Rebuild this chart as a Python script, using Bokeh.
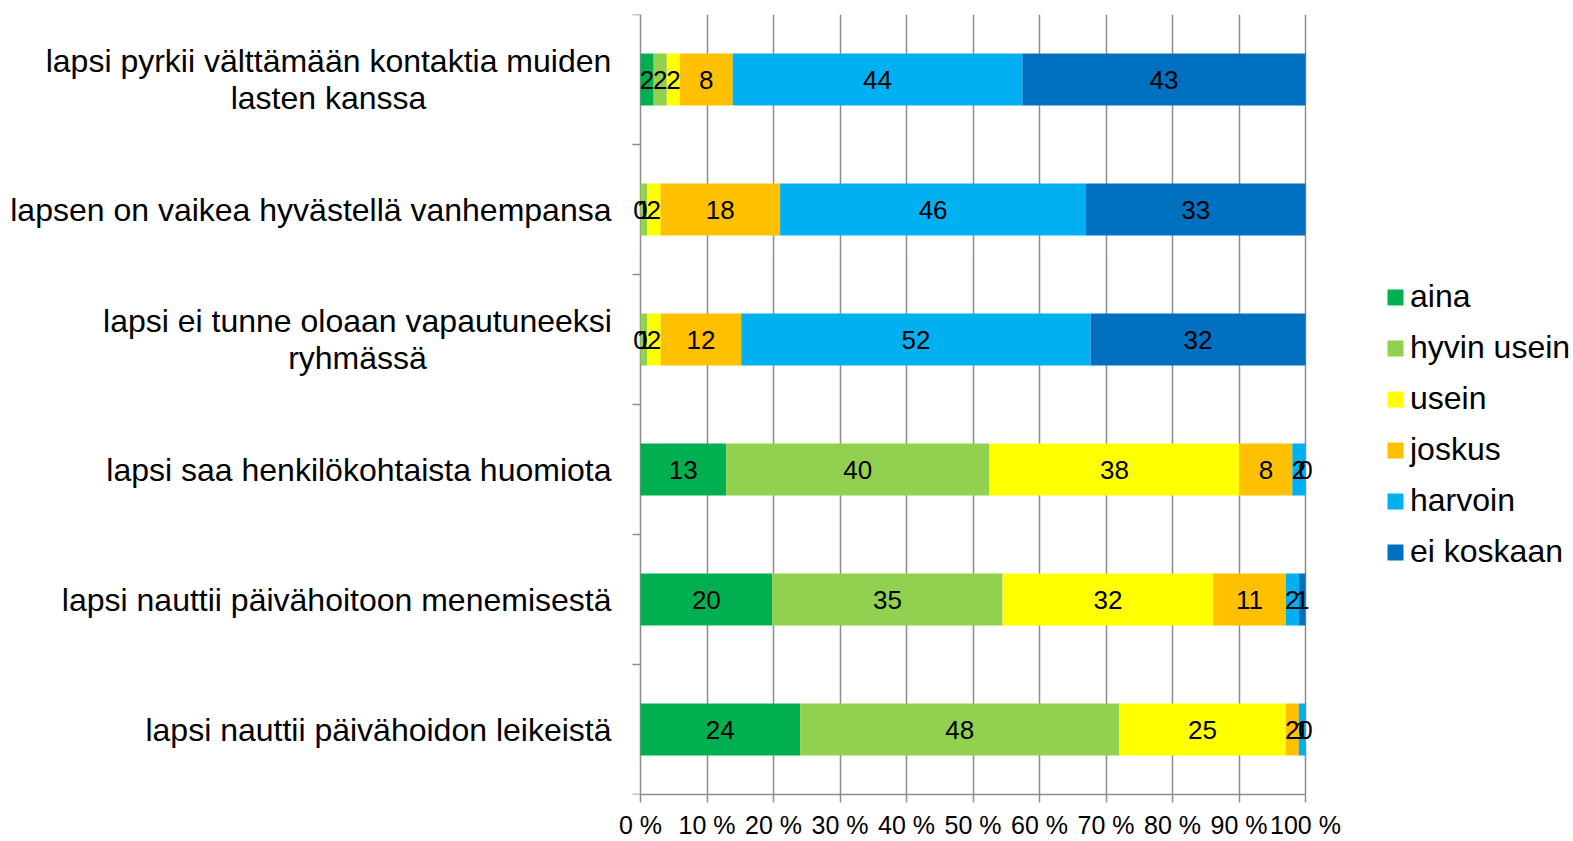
from bokeh.plotting import figure
from bokeh.models import (Range1d, FixedTicker, Label, LabelSet, Legend, LegendItem,
                          ColumnDataSource)
from bokeh.embed import file_html
from bokeh.resources import INLINE
from bokeh.core.properties import value
import numpy as np

# ---------------- data ----------------
categories = [
    "lapsi pyrkii välttämään kontaktia muiden\nlasten kanssa",
    "lapsen on vaikea hyvästellä vanhempansa",
    "lapsi ei tunne oloaan vapautuneeksi\nryhmässä",
    "lapsi saa henkilökohtaista huomiota",
    "lapsi nauttii päivähoitoon menemisestä",
    "lapsi nauttii päivähoidon leikeistä",
]
series_names = ["aina", "hyvin usein", "usein", "joskus", "harvoin", "ei koskaan"]
aina = [2, 0, 0, 13, 20, 24]
hyvin_usein = [2, 1, 1, 40, 35, 48]
usein = [2, 2, 2, 38, 32, 25]
joskus = [8, 18, 12, 8, 11, 2]
harvoin = [44, 46, 52, 2, 2, 1]
ei_koskaan = [43, 33, 32, 0, 1, 0]
x_ticks = [0, 10, 20, 30, 40, 50, 60, 70, 80, 90, 100]
x_tick_labels = ["0 %", "10 %", "20 %", "30 %", "40 %", "50 %", "60 %", "70 %", "80 %", "90 %", "100 %"]

# ---------------- style / layout ----------------
colors = ["#00B050", "#92D050", "#FFFF00", "#FFC000", "#00B0F0", "#0070C0"]
grid_color = "#8C8C8C"
FONT = "Liberation Sans"

W, H = 1573, 841
AXIS_PX = 640          # screen x of the 0 % line
PX_PER_PCT = 6.65      # screen px per percent
TOP, BOTTOM_BORDER = 14, 44

series = [aina, hyvin_usein, usein, joskus, harvoin, ei_koskaan]
vals = np.array(series, dtype=float)          # (series, categories)
pct = vals / vals.sum(axis=0) * 100.0
cum = np.cumsum(pct, axis=0)
lefts = cum - pct

n = len(categories)
ys = [i + 0.5 for i in range(n)]

x_start = -AXIS_PX / PX_PER_PCT
x_end = (W - AXIS_PX) / PX_PER_PCT

p = figure(width=W, height=H, x_range=Range1d(x_start, x_end), y_range=Range1d(n, 0),
           output_backend="svg", toolbar_location=None,
           min_border_left=0, min_border_right=0, min_border_top=TOP,
           min_border_bottom=BOTTOM_BORDER)
p.outline_line_color = None
p.yaxis.visible = False

# grid (the 0 % grid line doubles as the vertical axis line)
p.xgrid.ticker = FixedTicker(ticks=x_ticks)
p.xgrid.grid_line_color = grid_color
p.xgrid.grid_line_width = 1.5
p.ygrid.grid_line_color = None

# category boundary tick marks on the vertical axis
bounds = list(range(n + 1))
tick_len = 8 / PX_PER_PCT
p.segment(x0=[0] * len(bounds), x1=[-tick_len] * len(bounds), y0=bounds, y1=bounds,
          line_color=grid_color, line_width=1.5)

renderers = []
for k, name in enumerate(series_names):
    src = ColumnDataSource(dict(y=ys, left=lefts[k], right=cum[k]))
    r = p.hbar(y="y", left="left", right="right", height=0.4, source=src,
               fill_color=colors[k], line_color=None)
    renderers.append(r)
    lab_src = ColumnDataSource(dict(x=(lefts[k] + cum[k]) / 2, y=ys,
                                    t=[str(v) for v in series[k]]))
    p.add_layout(LabelSet(x="x", y="y", text="t", source=lab_src,
                          text_align="center", text_baseline="middle",
                          text_font=value(FONT), text_font_size="26px",
                          text_color="black"))

# x axis
p.xaxis.bounds = (0, 100)
p.xaxis.ticker = FixedTicker(ticks=x_ticks)
p.xaxis.major_label_overrides = {t: l for t, l in zip(x_ticks, x_tick_labels)}
p.xaxis.major_label_text_font = FONT
p.xaxis.major_label_text_font_size = "25px"
p.xaxis.major_label_text_color = "black"
p.xaxis.major_label_standoff = 8
p.xaxis.axis_line_color = grid_color
p.xaxis.axis_line_width = 1.5
p.xaxis.major_tick_line_color = grid_color
p.xaxis.major_tick_line_width = 1.5
p.xaxis.major_tick_out = 8
p.xaxis.major_tick_in = 0
p.xaxis.minor_tick_line_color = None

# category labels (left of the axis)
label_offset = [-312, -29, -283, -29, -29, -29]
label_align = ["center", "right", "center", "right", "right", "right"]
for i, cat in enumerate(categories):
    p.add_layout(Label(x=0, y=ys[i], x_offset=label_offset[i],
                       text=cat, text_align=label_align[i], text_baseline="middle",
                       text_font=FONT, text_font_size="32px", text_color="black",
                       text_line_height=1.02))

legend = Legend(items=[LegendItem(label=s, renderers=[r]) for s, r in zip(series_names, renderers)],
                location=(1385, 224), orientation="vertical",
                glyph_width=20, glyph_height=20, label_standoff=5,
                label_height=37, spacing=14, padding=0, margin=0,
                label_text_font=FONT, label_text_font_size="32px",
                label_text_color="black", label_text_baseline="middle",
                border_line_alpha=0, background_fill_alpha=0)
p.add_layout(legend)

open("out.html", "w").write(file_html(p, INLINE))
